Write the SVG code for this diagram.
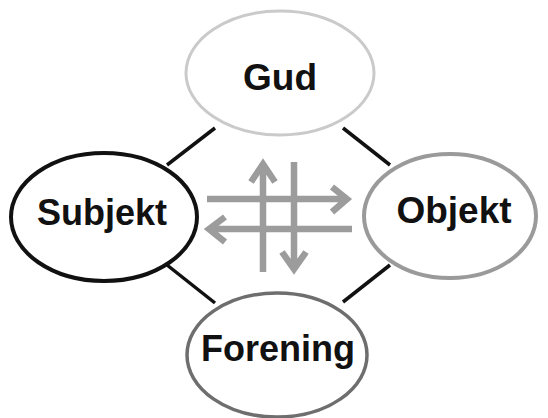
<svg xmlns="http://www.w3.org/2000/svg" width="548" height="418" viewBox="0 0 548 418">
<style>
.lbl{font-family:"Liberation Sans",Arial,sans-serif;font-weight:bold;fill:#111;text-anchor:middle}
.node{fill:#fff}
.conn{stroke:#111;stroke-width:3.5;fill:none}
.arr{stroke:#9c9c9c;stroke-width:6.5;fill:none;stroke-linejoin:miter}
</style>
<rect width="548" height="418" fill="#fff"/>
<g id="connectors">
<line class="conn" x1="215" y1="128" x2="167" y2="165"/>
<line class="conn" x1="343" y1="128" x2="390" y2="165"/>
<line class="conn" x1="167" y1="265" x2="215" y2="303"/>
<line class="conn" x1="390" y1="265" x2="343" y2="302"/>
<g id="arrows">
<path class="arr" d="M207 199H346M332 187L347 199L332 212"/>
<path class="arr" d="M352 229H209M225 217L209 229L225 242"/>
<path class="arr" d="M263 272V164M251 182L263 164L275 182"/>
<path class="arr" d="M294 162V268M282 252L294 269L306 252"/>
</g>
</g>
<g id="gud">
<ellipse class="node" cx="280" cy="73" rx="94" ry="62" stroke="#cacaca" stroke-width="3"/>
<text class="lbl" x="280" y="90" font-size="37">Gud</text>
</g>
<g id="subjekt">
<ellipse class="node" cx="104" cy="217" rx="93" ry="64" stroke="#111" stroke-width="4"/>
<text class="lbl" x="102" y="225" font-size="36">Subjekt</text>
</g>
<g id="objekt">
<ellipse class="node" cx="450" cy="216" rx="86" ry="62" stroke="#9a9a9a" stroke-width="4"/>
<text class="lbl" x="454" y="223" font-size="37">Objekt</text>
</g>
<g id="forening">
<ellipse class="node" cx="277" cy="355" rx="90" ry="62" stroke="#6e6e6e" stroke-width="3.5"/>
<text class="lbl" x="278" y="361" font-size="36">Forening</text>
</g>
</svg>
